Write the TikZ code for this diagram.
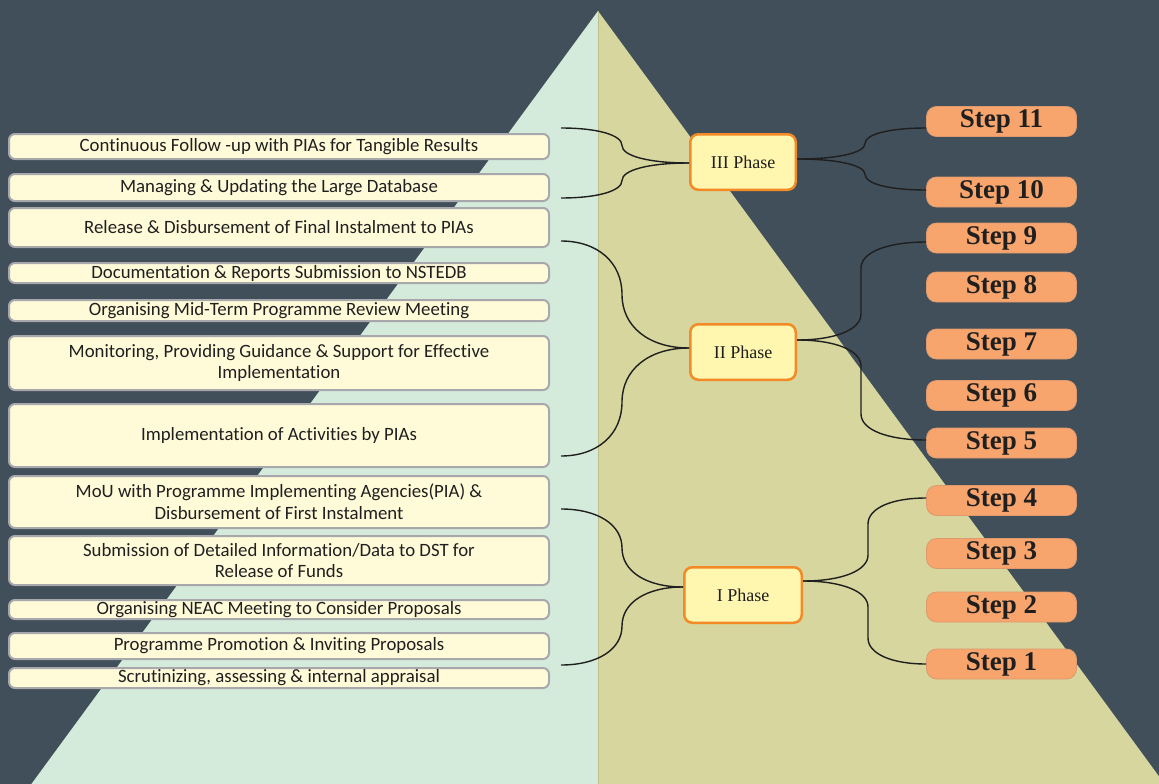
\documentclass[tikz,border=0pt]{standalone}
\usepackage{fontspec}
\setmainfont{Liberation Serif}
\newfontfamily\carlito[Ligatures=NoCommon]{Carlito}
\definecolor{bgc}{HTML}{414F5A}
\definecolor{mint}{HTML}{D4EBDC}
\definecolor{olive}{HTML}{D6D69E}
\definecolor{oliveline}{HTML}{BDBF8C}
\definecolor{cream}{HTML}{FFFBD9}
\definecolor{boxgray}{HTML}{A8A8AC}
\definecolor{phfill}{HTML}{FFF6B0}
\definecolor{phdraw}{HTML}{F28A26}
\definecolor{stfill}{HTML}{F7A56D}
\definecolor{stdraw}{HTML}{DE9A6C}
\definecolor{ink}{HTML}{1F1F1F}
\tikzset{
  lbox/.style={draw=boxgray, fill=cream, line width=2pt, rounded corners=6pt,
    minimum width=540pt, inner sep=0pt, align=center, text=ink,
    font=\carlito\fontsize{18.8}{21.8}\selectfont},
  phase/.style={draw=phdraw, fill=phfill, line width=2.5pt, rounded corners=8pt,
    minimum height=55.5pt, inner sep=0pt, text=ink, font=\fontsize{18}{20}\selectfont},
  stepbox/.style={draw=stdraw, fill=stfill, line width=0.8pt, rounded corners=10pt,
    minimum width=150pt, minimum height=30pt, inner sep=0pt, text=ink,
    font=\bfseries\fontsize{27}{28}\selectfont},
  conn/.style={draw=ink, line width=1.4pt}
}
\begin{document}
\begin{tikzpicture}[x=1pt,y=-1pt]
\useasboundingbox (0,0) rectangle (1159,784);
\begin{scope}
\clip (0,0) rectangle (1159,784);
\fill[bgc] (0,0) rectangle (1159,784);
\fill[mint] (598,11) -- (31.4,784) -- (598,784) -- cycle;
\fill[olive] (598,11) -- (1164.6,784) -- (598,784) -- cycle;
\draw[oliveline, line width=1pt] (598,11) -- (598,784);
\end{scope}

% left boxes
\node[lbox, minimum height=25pt] (b1) at (279,146.5) {Continuous Follow -up with PIAs for Tangible Results};
\node[lbox, minimum height=27pt] (b2) at (279,187.5) {Managing \& Updating the Large Database};
\node[lbox, minimum height=39pt] (b3) at (279,227.5) {Release \& Disbursement of Final Instalment to PIAs};
\node[lbox, minimum height=20pt] (b4) at (279,273) {Documentation \& Reports Submission to NSTEDB};
\node[lbox, minimum height=21pt] (b5) at (279,310.5) {Organising Mid-Term Programme Review Meeting};
\node[lbox, minimum height=54pt] (b6) at (279,363) {Monitoring, Providing Guidance \& Support for Effective\\Implementation};
\node[lbox, minimum height=63pt] (b7) at (279,435.5) {Implementation of Activities by PIAs};
\node[lbox, minimum height=52pt] (b8) at (279,502) {MoU with Programme Implementing Agencies(PIA) \&\\Disbursement of First Instalment};
\node[lbox, minimum height=49pt] (b9) at (279,560.5) {Submission of Detailed Information/Data to DST for\\Release of Funds};
\node[lbox, minimum height=19pt] (b10) at (279,609.5) {Organising NEAC Meeting to Consider Proposals};
\node[lbox, minimum height=26pt] (b11) at (279,646) {Programme Promotion \& Inviting Proposals};
\node[lbox, minimum height=20pt] (b12) at (279,678) {Scrutinizing, assessing \& internal appraisal};

% phases
\node[phase, minimum width=105.5pt] (ph3) at (743,162) {III Phase};
\node[phase, minimum width=105.5pt] (ph2) at (743,352) {II Phase};
\node[phase, minimum width=117.5pt] (ph1) at (743,595) {I Phase};

% steps
\node[stepbox] (s11) at (1001.5,121.5) {Step 11};
\node[stepbox] (s10) at (1001.5,192) {Step 10};
\node[stepbox] (s9) at (1001.5,238) {Step 9};
\node[stepbox] (s8) at (1001.5,287) {Step 8};
\node[stepbox] (s7) at (1001.5,344) {Step 7};
\node[stepbox] (s6) at (1001.5,395.5) {Step 6};
\node[stepbox] (s5) at (1001.5,443) {Step 5};
\node[stepbox] (s4) at (1001.5,500.5) {Step 4};
\node[stepbox] (s3) at (1001.5,553.5) {Step 3};
\node[stepbox] (s2) at (1001.5,607) {Step 2};
\node[stepbox] (s1) at (1001.5,664) {Step 1};

% free ends on the left
\coordinate (a3) at (561,128);
\coordinate (c3) at (561,198);
\coordinate (a2) at (561,241);
\coordinate (c2) at (561,456);
\coordinate (a1) at (561,509);
\coordinate (c1) at (561,665);

% left connectors
\draw[conn] (a3) .. controls (597.6,128) and (622,135) .. (622,145.5)
  .. controls (622,156) and (648.8,163) .. ([yshift=-1pt]ph3.west);
\draw[conn] (c3) .. controls (597.6,198) and (622,191) .. (622,180.5)
  .. controls (622,170) and (648.8,163) .. ([yshift=-1pt]ph3.west);
\draw[conn] (a2) .. controls (597.6,241) and (622,262.4) .. (622,294.5)
  .. controls (622,326.6) and (648.8,348) .. ([yshift=4pt]ph2.west);
\draw[conn] (c2) .. controls (597.6,456) and (622,434.4) .. (622,402)
  .. controls (622,369.6) and (648.8,348) .. ([yshift=4pt]ph2.west);
\draw[conn] (a1) .. controls (597.6,509) and (622,524.6) .. (622,548)
  .. controls (622,571.4) and (646.4,587) .. ([yshift=8pt]ph1.west);
\draw[conn] (c1) .. controls (597.6,665) and (622,649.4) .. (622,626)
  .. controls (622,602.6) and (646.4,587) .. ([yshift=8pt]ph1.west);

% right connectors
\draw[conn] ([yshift=3pt]ph3.east) .. controls (837.8,159) and (865,152.8) .. (865,143.5)
  .. controls (865,134.2) and (889.4,128) .. ([yshift=-6.5pt]s11.west);
\draw[conn] ([yshift=3pt]ph3.east) .. controls (837.8,159) and (865,165.2) .. (865,174.5)
  .. controls (865,183.8) and (889.4,190) .. ([yshift=2pt]s10.west);
\draw[conn] ([yshift=12pt]ph2.east) .. controls (835.4,340) and (861,329.6) .. (861,314)
  -- (861,268) .. controls (861,252.4) and (887,242) .. ([yshift=-4pt]s9.west);
\draw[conn] ([yshift=12pt]ph2.east) .. controls (835.4,340) and (861,350.4) .. (861,366)
  -- (861,414) .. controls (861,429.6) and (887,440) .. ([yshift=3pt]s5.west);
\draw[conn] ([yshift=14pt]ph1.east) .. controls (842,581) and (868,570.6) .. (868,555)
  -- (868,524) .. controls (868,508.4) and (891.2,498) .. ([yshift=2.5pt]s4.west);
\draw[conn] ([yshift=14pt]ph1.east) .. controls (842,581) and (868,591.4) .. (868,607)
  -- (868,638) .. controls (868,653.6) and (891.2,664) .. (s1.west);
\end{tikzpicture}
\end{document}
